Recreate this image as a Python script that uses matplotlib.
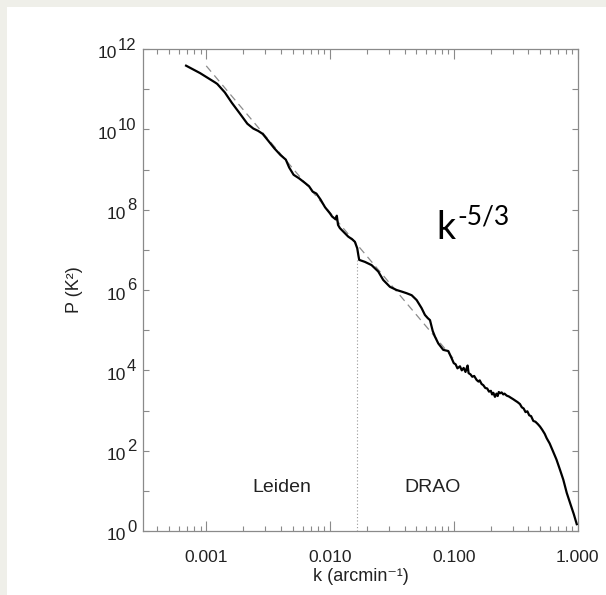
import matplotlib
matplotlib.use("Agg")
import matplotlib.pyplot as plt
import matplotlib.transforms as mtrans
import numpy as np
from matplotlib.patches import Rectangle
from matplotlib.ticker import FixedLocator, NullFormatter

# ---------------- data ----------------
log_k = [-3.163, -3.05, -2.93, -2.911, -2.85, -2.793, -2.73, -2.668, -2.62, -2.58,
         -2.544, -2.50, -2.450, -2.40, -2.357, -2.33, -2.294, -2.25, -2.20, -2.170,
         -2.14, -2.11, -2.077, -2.04, -2.001, -1.983, -1.955, -1.945, -1.935, -1.920,
         -1.853, -1.82, -1.799, -1.780, -1.770, -1.764, -1.718, -1.664, -1.610, -1.570,
         -1.516, -1.462, -1.42, -1.381, -1.34, -1.300, -1.26, -1.233, -1.210, -1.192,
         -1.170, -1.152, -1.125, -1.085, -1.044, -1.017, -1.000, -0.985, -0.970, -0.950,
         -0.935, -0.920, -0.905, -0.896, -0.888, -0.880, -0.865, -0.850, -0.835, -0.815,
         -0.800, -0.790, -0.775, -0.761, -0.745, -0.730, -0.715, -0.700, -0.690, -0.680,
         -0.667, -0.655, -0.645, -0.636, -0.625, -0.613, -0.600, -0.590, -0.572, -0.555,
         -0.540, -0.519, -0.500, -0.485, -0.465, -0.450, -0.435, -0.420, -0.405, -0.390,
         -0.375, -0.357, -0.340, -0.320, -0.303, -0.285, -0.265, -0.249, -0.225, -0.196,
         -0.170, -0.141, -0.115, -0.087, -0.055, -0.030, -0.006]
log_P = [11.585, 11.40, 11.17, 11.13, 10.92, 10.66, 10.40, 10.14, 10.02, 9.96,
         9.887, 9.72, 9.528, 9.36, 9.245, 9.05, 8.868, 8.78, 8.66, 8.585,
         8.45, 8.40, 8.255, 8.06, 7.91, 7.83, 7.76, 7.85, 7.62, 7.54,
         7.33, 7.26, 7.20, 7.04, 6.85, 6.75, 6.70, 6.62, 6.46, 6.25,
         6.08, 6.00, 5.96, 5.92, 5.87, 5.75, 5.55, 5.38, 5.30, 5.25,
         4.98, 4.84, 4.67, 4.51, 4.48, 4.30, 4.18, 4.15, 4.05, 4.10,
         4.00, 4.06, 3.96, 4.05, 4.12, 3.93, 3.90, 3.84, 3.86, 3.76,
         3.72, 3.75, 3.66, 3.63, 3.56, 3.55, 3.47, 3.49, 3.40, 3.44,
         3.34, 3.42, 3.36, 3.46, 3.43, 3.45, 3.40, 3.42, 3.37, 3.35,
         3.32, 3.28, 3.24, 3.21, 3.16, 3.08, 3.05, 2.96, 2.98, 2.88,
         2.86, 2.74, 2.72, 2.66, 2.60, 2.52, 2.42, 2.31, 2.18, 1.97,
         1.78, 1.52, 1.28, 0.95, 0.65, 0.42, 0.17]

fit_k = [0.001, 0.1]
fit_P = [10 ** 11.58, 10 ** 4.28]

boundary_k = 0.01656
boundary_top = 10 ** 6.75

x_ticks = [0.001, 0.01, 0.1, 1.0]
x_tick_labels = ["0.001", "0.010", "0.100", "1.000"]
y_exponents = [0, 2, 4, 6, 8, 10, 12]

k = 10 ** np.array(log_k)
P = 10 ** np.array(log_P)

FONT = "Liberation Sans"
FONTS = [FONT, "DejaVu Sans"]
plt.rcParams["mathtext.fontset"] = "custom"
plt.rcParams["mathtext.rm"] = FONT

# ---------------- figure ----------------
W, H = 606, 595
fig = plt.figure(figsize=(W / 100, H / 100), dpi=100, facecolor="#efefe9")
fig.patches.append(Rectangle((7 / W, 0), 1, 1 - 7 / H, transform=fig.transFigure,
                             facecolor="white", edgecolor="none", zorder=-10))

ax = fig.add_axes([143.3 / W, 1 - 531 / H, (577.5 - 143.3) / W, (531 - 49) / H])
ax.set_facecolor("white")
ax.set_xscale("log")
ax.set_yscale("log")
ax.set_xlim(3.1e-4, 1.0)
ax.set_ylim(1, 1e12)

frame_col = "#8a8a8a"
text_col = "#222222"

ax.plot(k, P, color="black", lw=1.6, solid_joinstyle="round", zorder=3)
ax.plot(fit_k, fit_P, color="#8c8c8c", lw=0.9, dashes=(6, 4), zorder=2)
ax.plot([boundary_k, boundary_k], [1, boundary_top], color="#9a9a9a", lw=0.8,
        dashes=(1, 2), zorder=1)

for s in ax.spines.values():
    s.set_color(frame_col)
    s.set_linewidth(0.9)

# x ticks
ax.xaxis.set_major_locator(FixedLocator(x_ticks))
minor_x = [m * d for d in [1e-4, 1e-3, 1e-2, 1e-1] for m in range(2, 10)
           if 3.1e-4 <= m * d <= 1.0]
ax.xaxis.set_minor_locator(FixedLocator(minor_x))
ax.xaxis.set_minor_formatter(NullFormatter())
ax.set_xticklabels(x_tick_labels, fontfamily=FONT, fontsize=12.5, color=text_col)
ax.tick_params(axis="x", which="major", direction="in", length=7, width=0.8,
               color=frame_col, top=True, pad=14)
ax.tick_params(axis="x", which="minor", direction="in", length=3.5, width=0.8,
               color=frame_col, top=True)

# y ticks
ax.yaxis.set_major_locator(FixedLocator([10.0 ** e for e in y_exponents]))
ax.yaxis.set_minor_locator(FixedLocator([10.0 ** e for e in range(1, 12, 2)]))
ax.yaxis.set_minor_formatter(NullFormatter())
ax.yaxis.set_major_formatter(NullFormatter())
ax.tick_params(axis="y", which="both", direction="in", length=4.5, width=0.8,
               color=frame_col, right=True)

# y tick labels: "10" with a raised exponent of similar size
blend = mtrans.blended_transform_factory(ax.transAxes, ax.transData)
for e in y_exponents:
    ex = ax.annotate(str(e), xy=(0, 10.0 ** e), xycoords=blend,
                     xytext=(-7, 4), textcoords="offset pixels",
                     ha="right", va="center", fontfamily=FONT, fontsize=12,
                     color=text_col)
    ax.annotate("10", xy=(0, 0.5), xycoords=ex, xytext=(-1, -9),
                textcoords="offset pixels", ha="right", va="center",
                fontfamily=FONT, fontsize=12.5, color=text_col)

ax.set_xlabel("k (arcmin\u207b\u00b9)", family=FONTS, fontsize=13,
              color=text_col, labelpad=2)
ax.set_ylabel("P (K\u00b2)", family=FONTS, fontsize=13,
              color=text_col, labelpad=40)

ax.text(0.00408, 10 ** 1.085, "Leiden", fontfamily=FONT, fontsize=14,
        ha="center", va="center", color=text_col)
ax.text(0.0669, 10 ** 1.085, "DRAO", fontfamily=FONT, fontsize=14,
        ha="center", va="center", color=text_col)

fig.text(436 / W, 1 - 239 / H, "k", fontfamily="Lato", fontsize=27,
         ha="left", va="baseline", color="black")
fig.text(457 / W, 1 - 225 / H, "-5/3", fontfamily="Lato", fontsize=19,
         ha="left", va="baseline", color="black")

fig.savefig("out.png", dpi=100, facecolor=fig.get_facecolor())
